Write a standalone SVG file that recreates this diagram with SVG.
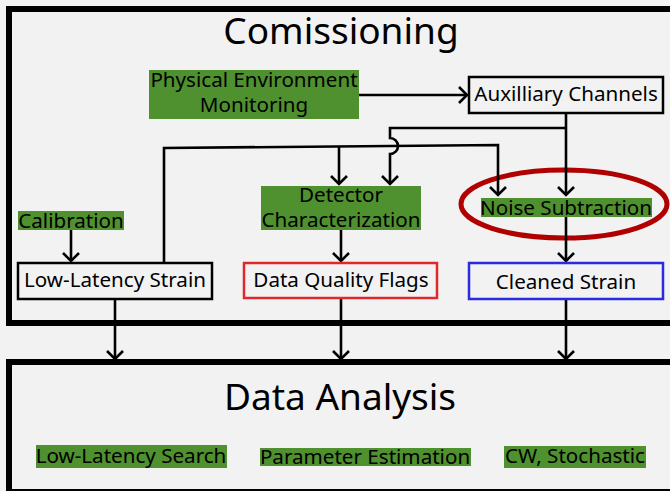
<svg xmlns="http://www.w3.org/2000/svg" width="670" height="491" viewBox="0 0 670 491">
<style>
text{font-family:"Noto Sans","Open Sans","DejaVu Sans",sans-serif;fill:#000;text-anchor:middle}
.lbl{font-size:20.6px}
.title{font-size:37px}
.green{fill:#4f902f}
.box{fill:#f2f2f2;stroke:#000;stroke-width:2.5}
.frame{fill:none;stroke:#000;stroke-width:6}
.conn path{fill:none;stroke:#000;stroke-width:2.6}
</style>
<defs>
<marker id="arr" markerUnits="userSpaceOnUse" markerWidth="20" markerHeight="20" viewBox="-12 -10 14 20" refX="0" refY="0" orient="auto">
<path d="M-8,-8 L0,0 L-8,8" fill="none" stroke="#000" stroke-width="2.6"/>
</marker>
</defs>
<rect x="0" y="0" width="670" height="491" fill="#f2f2f2"/>
<g id="commissioning">
<rect class="frame" x="9" y="9" width="700" height="314"/>
<text class="title" x="341" y="44">Comissioning</text>
</g>
<g id="data-analysis">
<rect class="frame" x="9" y="362" width="700" height="130"/>
<text class="title" x="340" y="410">Data Analysis</text>
</g>
<g id="highlight">
<ellipse cx="564" cy="204" rx="103" ry="34" fill="none" stroke="#b00000" stroke-width="5"/>
</g>
<g id="connectors" class="conn">
<path d="M359,95 H467" marker-end="url(#arr)"/>
<path d="M566,113 V195" marker-end="url(#arr)"/>
<path d="M566,217 V261" marker-end="url(#arr)"/>
<path d="M566,128 H390 V138 A8,8 0 0 1 390,154 V184" marker-end="url(#arr)"/>
<path d="M164,263 V148 L498,145 V195" marker-end="url(#arr)"/>
<path d="M339,147 V184" marker-end="url(#arr)"/>
<path d="M71,230 V261" marker-end="url(#arr)"/>
<path d="M341,230 V261" marker-end="url(#arr)"/>
<path d="M115,299 V359" marker-end="url(#arr)"/>
<path d="M341,298 V359" marker-end="url(#arr)"/>
<path d="M566,299 V359" marker-end="url(#arr)"/>
</g>
<g id="pem">
<rect class="green" x="149" y="70" width="210" height="49"/>
<text class="lbl" x="254" y="87">Physical Environment</text>
<text class="lbl" x="254" y="112">Monitoring</text>
</g>
<g id="aux">
<rect class="box" x="469" y="77" width="194" height="36"/>
<text class="lbl" x="566" y="101">Auxilliary Channels</text>
</g>
<g id="calibration">
<rect class="green" x="18" y="211" width="106" height="19"/>
<text class="lbl" x="71" y="228">Calibration</text>
</g>
<g id="detchar">
<rect class="green" x="261" y="186" width="160" height="44"/>
<text class="lbl" x="341" y="202">Detector</text>
<text class="lbl" x="341" y="227">Characterization</text>
</g>
<g id="noise">
<rect class="green" x="481" y="198" width="171" height="19"/>
<text class="lbl" x="566" y="215">Noise Subtraction</text>
</g>
<g id="lls">
<rect class="box" x="18" y="263" width="194" height="36"/>
<text class="lbl" x="115" y="287">Low-Latency Strain</text>
</g>
<g id="dqf">
<rect class="box" x="244" y="263" width="193" height="35" style="stroke:#e0282c"/>
<text class="lbl" x="341" y="287">Data Quality Flags</text>
</g>
<g id="cleaned">
<rect class="box" x="469" y="263" width="194" height="36" style="stroke:#2a2ae0"/>
<text class="lbl" x="566" y="289">Cleaned Strain</text>
</g>
<g id="llsearch">
<rect class="green" x="36" y="445" width="191" height="23"/>
<text class="lbl" x="131" y="463">Low-Latency Search</text>
</g>
<g id="pe">
<rect class="green" x="260" y="448" width="211" height="18"/>
<text class="lbl" x="365" y="464">Parameter Estimation</text>
</g>
<g id="cw">
<rect class="green" x="504" y="446" width="142" height="22"/>
<text class="lbl" x="575" y="463">CW, Stochastic</text>
</g>
</svg>
